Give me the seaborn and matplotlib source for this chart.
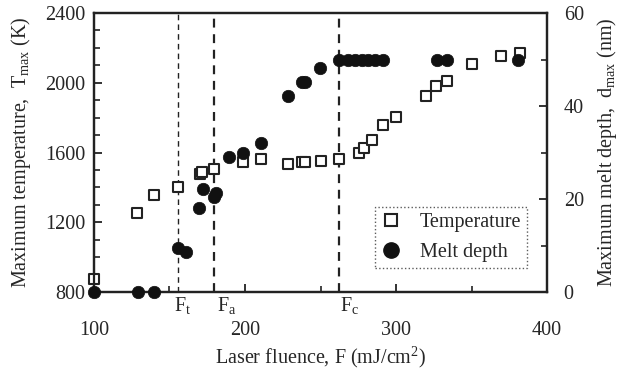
import matplotlib
matplotlib.use("Agg")
import matplotlib.pyplot as plt
import seaborn as sns
import pandas as pd
from matplotlib.lines import Line2D
import matplotlib.transforms as mtransforms

# ---- data ----
temp_fluence = [100, 128.5, 140, 155.6, 170.2, 171.7, 179.5, 198.9, 210.4, 228.5,
                237.7, 239.7, 250.1, 262.5, 275.7, 279, 283.9, 291.6, 300,
                319.9, 326.5, 334, 350.1, 369.5, 382.1]
temp_values = [875, 1251, 1356, 1404, 1475, 1486, 1503, 1543, 1561, 1534,
               1543, 1543, 1553, 1561, 1599, 1624, 1672, 1758, 1805,
               1926, 1981, 2010, 2106, 2153, 2172]

melt_fluence = [100, 128.9, 139.7, 155.4, 160.7, 169.8, 172, 179.5, 180.6, 189.6,
                198.9, 210.4, 228.5, 237.5, 239.7, 249.7, 262.5, 268.5, 272.8,
                277.3, 281.7, 286.2, 291.6, 327, 333.6, 380.6]
melt_values = [0, 0, 0, 9.4, 8.5, 18, 22.1, 20.4, 21.2, 29.1,
               30, 32.1, 42.2, 45.2, 45.2, 48.2, 50, 50, 50,
               50, 50, 50, 50, 50, 50, 50]

threshold_names = ["F$_{\\rm t}$", "F$_{\\rm a}$", "F$_{\\rm c}$"]
threshold_values = [155.3, 179.5, 262.5]
threshold_widths = [1.0, 1.6, 1.6]

x_ticks = [100, 200, 300, 400]
y_ticks_left = [800, 1200, 1600, 2000, 2400]
y_ticks_right = [0, 20, 40, 60]

temp_df = pd.DataFrame({"F": temp_fluence, "T": temp_values})
melt_df = pd.DataFrame({"F": melt_fluence, "d": melt_values})

FS = 14.5

sns.set_theme(style="ticks")
plt.rcParams["font.family"] = ["Liberation Serif", "DejaVu Serif"]
plt.rcParams["mathtext.fontset"] = "custom"
plt.rcParams["mathtext.rm"] = "Liberation Serif"
plt.rcParams["mathtext.it"] = "Liberation Serif:italic"
plt.rcParams["font.size"] = FS

fig = plt.figure(figsize=(6.24, 3.70), dpi=100)
ax = fig.add_axes([94 / 624, 1 - 292 / 370, (547 - 94) / 624, (292 - 13) / 370])
ax2 = ax.twinx()

sns.scatterplot(data=temp_df, x="F", y="T", ax=ax, marker="s", s=58,
                facecolor="white", edgecolor="#222222", linewidth=1.5,
                clip_on=False, zorder=3)
sns.scatterplot(data=melt_df, x="F", y="d", ax=ax2, marker="o", s=80,
                color="#111111", edgecolor="#111111", linewidth=0.5,
                clip_on=False, zorder=4)

ax.set_xlim(100, 400)
ax.set_ylim(800, 2400)
ax2.set_ylim(0, 60)

for xv, lw in zip(threshold_values, threshold_widths):
    ax.axvline(xv, color="#222222", linestyle=(0, (4, 3)), linewidth=lw, zorder=1)

trans = mtransforms.blended_transform_factory(ax.transData, ax.transAxes)
offsets = [-4, 3, 1]
for name, xv, off in zip(threshold_names, threshold_values, offsets):
    ax.annotate(name, xy=(xv, 0), xycoords=trans, xytext=(off, -3),
                textcoords="offset pixels", ha="left", va="top", fontsize=FS)

ax.set_xticks(x_ticks)
ax.set_xticks(range(100, 401, 50), minor=True)
ax.set_yticks(y_ticks_left)
ax.set_yticks(range(800, 2401, 100), minor=True)
ax2.set_yticks(y_ticks_right)
ax2.set_yticks(range(0, 61, 10), minor=True)

for a in (ax, ax2):
    a.tick_params(direction="in", which="major", length=6, width=1.3, labelsize=FS, color="#222222")
    a.tick_params(direction="in", which="minor", length=4, width=1.2, color="#222222")
    for sp in a.spines.values():
        sp.set_linewidth(1.6)
        sp.set_color("#222222")
ax.tick_params(axis="x", pad=21)
ax.tick_params(axis="y", pad=6)
ax2.tick_params(axis="y", pad=12)

ax.set_xlabel("Laser fluence, F (mJ/cm$^{2}$)", fontsize=FS, labelpad=3.5)
ax.set_ylabel("Maximum temperature,  T$_{\\rm max}$ (K)", fontsize=FS, labelpad=9)
ax2.set_ylabel("Maximum melt depth,  d$_{\\rm max}$ (nm)", fontsize=FS, labelpad=8)

handles = [
    Line2D([], [], marker="s", linestyle="none", markersize=8.5, markerfacecolor="white",
           markeredgecolor="#222222", markeredgewidth=1.5, label="Temperature"),
    Line2D([], [], marker="o", linestyle="none", markersize=11, markerfacecolor="#111111",
           markeredgecolor="#111111", label="Melt depth"),
]
leg = ax2.legend(handles=handles, loc="lower right", bbox_to_anchor=(0.956, 0.086),
                 frameon=True, fancybox=False, fontsize=FS, handletextpad=0.9,
                 borderpad=0.3, labelspacing=0.55, handlelength=1.0, borderaxespad=0)
leg.get_frame().set_edgecolor("#333333")
leg.get_frame().set_linestyle(":")
leg.get_frame().set_linewidth(1.0)

fig.savefig("out.png", dpi=100)
